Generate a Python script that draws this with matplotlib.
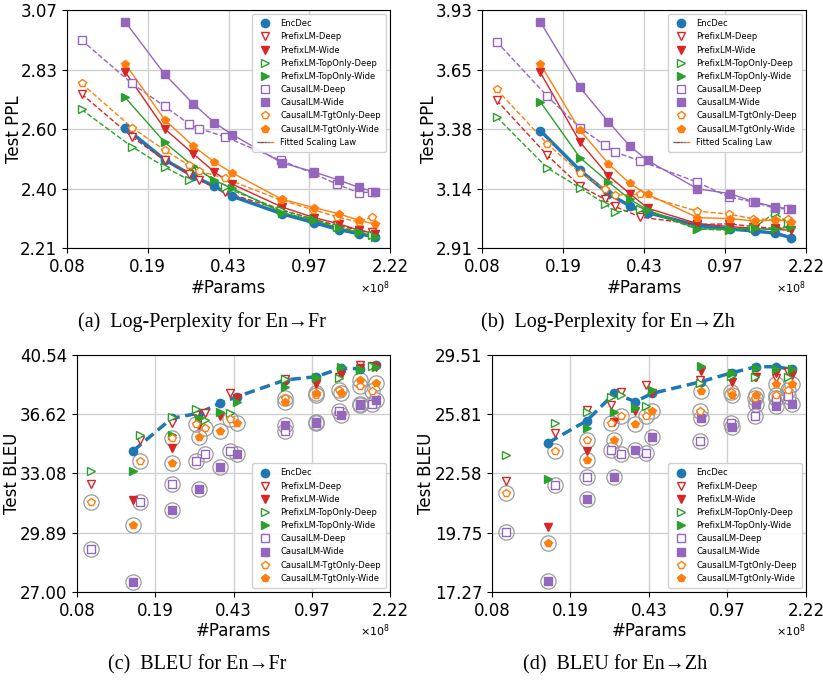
import numpy as np
import matplotlib
matplotlib.use('Agg')
import matplotlib.pyplot as plt
from matplotlib.lines import Line2D
from matplotlib.legend_handler import HandlerTuple
from matplotlib.ticker import NullLocator

# x positions (x 1e8 params)
x_deep = [0.0969, 0.1616, 0.2251, 0.2897, 0.3207, 0.4155, 0.735, 1.017, 1.301, 1.620, 1.841]
x_wide = [0.1508, 0.2251, 0.3003, 0.3729, 0.4466, 0.740, 1.024, 1.322, 1.620, 1.915]

series_names = ['EncDec', 'PrefixLM-Deep', 'PrefixLM-Wide', 'PrefixLM-TopOnly-Deep',
                'PrefixLM-TopOnly-Wide', 'CausalLM-Deep', 'CausalLM-Wide',
                'CausalLM-TgtOnly-Deep', 'CausalLM-TgtOnly-Wide']

# (a) En->Fr log-perplexity
fr_ppl_encdec = [2.610, 2.497, 2.441, 2.407, 2.374, 2.317, 2.289, 2.267, 2.254, 2.244]
fr_ppl_prefix_deep = [2.734, 2.577, 2.495, 2.448, 2.427, 2.387, 2.330, 2.300, 2.280, 2.265, 2.258]
fr_ppl_prefix_wide = [2.819, 2.606, 2.518, 2.455, 2.414, 2.339, 2.305, 2.285, 2.265, 2.254]
fr_ppl_toponly_deep = [2.676, 2.542, 2.472, 2.427, 2.460, 2.403, 2.330, 2.300, 2.275, 2.260, 2.250]
fr_ppl_toponly_wide = [2.721, 2.558, 2.475, 2.427, 2.400, 2.321, 2.296, 2.272, 2.258, 2.244]
fr_ppl_causal_deep = [2.945, 2.774, 2.688, 2.622, 2.606, 2.577, 2.494, 2.450, 2.413, 2.385, 2.388]
fr_ppl_causal_wide = [3.021, 2.810, 2.698, 2.628, 2.585, 2.486, 2.455, 2.427, 2.403, 2.387]
fr_ppl_tgt_deep = [2.774, 2.610, 2.530, 2.477, 2.458, 2.433, 2.361, 2.330, 2.307, 2.290, 2.307]
fr_ppl_tgt_wide = [2.851, 2.639, 2.545, 2.489, 2.452, 2.364, 2.337, 2.317, 2.296, 2.284]

# (b) En->Zh log-perplexity
zh_ppl_encdec = [3.375, 3.210, 3.117, 3.069, 3.043, 2.994, 2.981, 2.973, 2.965, 2.948]
zh_ppl_prefix_deep = [3.507, 3.272, 3.147, 3.095, 3.067, 3.026, 2.998, 3.000, 2.990, 2.983, 2.990]
zh_ppl_prefix_wide = [3.632, 3.327, 3.188, 3.117, 3.060, 3.001, 2.990, 2.983, 2.979, 2.976]
zh_ppl_toponly_deep = [3.434, 3.220, 3.140, 3.078, 3.045, 3.057, 2.981, 2.976, 2.983, 3.043, 3.004]
zh_ppl_toponly_wide = [3.500, 3.262, 3.163, 3.095, 3.053, 2.981, 2.981, 2.983, 2.979, 2.990]
zh_ppl_causal_deep = [3.776, 3.525, 3.388, 3.313, 3.285, 3.248, 3.163, 3.104, 3.084, 3.060, 3.057]
zh_ppl_causal_wide = [3.871, 3.564, 3.413, 3.310, 3.250, 3.136, 3.117, 3.084, 3.065, 3.057]
zh_ppl_tgt_deep = [3.555, 3.320, 3.200, 3.136, 3.111, 3.114, 3.049, 3.037, 3.020, 3.015, 3.020]
zh_ppl_tgt_wide = [3.671, 3.377, 3.237, 3.157, 3.114, 3.024, 3.020, 3.011, 3.015, 3.009]

# (c) En->Fr BLEU
fr_bleu_encdec = [34.40, 36.36, 36.70, 37.31, 37.74, 38.84, 39.06, 39.62, 39.60, 39.85]
fr_bleu_prefix_deep = [32.52, 35.04, 36.05, 36.56, 36.70, 37.96, 38.88, 38.60, 39.06, 39.85, 39.78]
fr_bleu_prefix_wide = [31.60, 34.55, 35.95, 36.50, 37.64, 38.73, 38.62, 39.17, 39.62, 39.74]
fr_bleu_toponly_deep = [33.20, 35.34, 36.42, 36.93, 36.26, 36.70, 38.88, 39.00, 38.95, 39.60, 39.78]
fr_bleu_toponly_wide = [33.20, 35.34, 36.36, 36.78, 37.42, 38.40, 39.06, 39.70, 39.51, 39.70]
fr_bleu_causal_deep = [29.09, 31.51, 32.50, 33.82, 34.21, 34.40, 35.60, 36.10, 36.82, 37.30, 37.30]
fr_bleu_causal_wide = [27.47, 31.10, 32.19, 33.43, 34.21, 35.93, 36.15, 36.60, 37.21, 37.53]
fr_bleu_tgt_deep = [31.51, 33.82, 35.14, 36.00, 35.80, 36.30, 37.64, 37.85, 38.18, 38.44, 38.10]
fr_bleu_tgt_wide = [30.28, 33.71, 35.24, 35.60, 36.10, 37.42, 38.00, 38.00, 38.84, 38.62]

# (d) En->Zh BLEU
zh_bleu_encdec = [24.21, 25.44, 27.06, 26.56, 27.06, 27.78, 28.35, 28.74, 28.74, 28.57]
zh_bleu_prefix_deep = [22.21, 24.72, 26.05, 26.35, 27.16, 27.58, 27.88, 28.15, 28.10, 28.00, 28.40]
zh_bleu_prefix_wide = [20.01, 23.75, 25.37, 26.00, 27.10, 28.45, 27.78, 28.05, 28.31, 28.20]
zh_bleu_toponly_deep = [23.55, 25.28, 25.95, 26.85, 26.96, 26.28, 27.73, 28.15, 28.10, 26.75, 28.10]
zh_bleu_toponly_wide = [22.28, 25.00, 25.95, 26.20, 27.26, 28.78, 28.31, 28.65, 28.57, 28.57]
zh_bleu_causal_deep = [19.79, 22.01, 22.40, 23.83, 23.58, 23.62, 24.31, 25.32, 25.69, 26.75, 26.90]
zh_bleu_causal_wide = [17.71, 21.31, 22.40, 23.83, 24.53, 25.62, 25.09, 26.40, 26.30, 26.40]
zh_bleu_tgt_deep = [21.58, 23.75, 24.35, 25.32, 25.69, 25.69, 26.00, 27.16, 26.79, 26.96, 27.29]
zh_bleu_tgt_wide = [19.30, 23.30, 24.35, 25.22, 26.00, 27.20, 26.96, 26.96, 27.64, 27.64]

x_ticklabels = ['0.08', '0.19', '0.43', '0.97', '2.22']
x_lim = (0.0836, 2.22)
fr_ppl_ticklabels = ['2.21', '2.40', '2.60', '2.83', '3.07']
zh_ppl_ticklabels = ['2.91', '3.14', '3.38', '3.65', '3.93']
fr_bleu_ticklabels = ['27.00', '29.89', '33.08', '36.62', '40.54']
zh_bleu_ticklabels = ['17.27', '19.75', '22.58', '25.81', '29.51']

colors = ['#1f77b4', '#d62728', '#d62728', '#2ca02c', '#2ca02c',
          '#9467bd', '#9467bd', '#ff7f0e', '#ff7f0e']
markers = ['o', 'v', 'v', '>', '>', 's', 's', 'p', 'p']
filled = [True, False, True, False, True, False, True, False, True]
is_deep = [False, True, False, True, False, True, False, True, False]


def setup_axes(ax, ylabels, ylabel, ylabel_x):
    ax.set_xscale('log')
    ax.set_yscale('log')
    ax.set_xlim(*x_lim)
    lo, hi = float(ylabels[0]), float(ylabels[-1])
    ax.set_ylim(lo, hi)
    ax.set_xticks(np.geomspace(x_lim[0], x_lim[1], 5))
    ax.set_xticklabels(x_ticklabels)
    ax.set_yticks(np.geomspace(lo, hi, 5))
    ax.set_yticklabels(ylabels)
    ax.xaxis.set_minor_locator(NullLocator())
    ax.yaxis.set_minor_locator(NullLocator())
    ax.tick_params(labelsize=12)
    ax.grid(True, color='#d0d0d0', lw=1)
    ax.set_axisbelow(True)
    ax.set_xlabel('#Params', fontsize=12, labelpad=2)
    ax.set_ylabel(ylabel, fontsize=12)
    ax.yaxis.set_label_coords(ylabel_x, 0.5)
    ax.text(1.0, -0.165, r'$\times 10^{8}$', transform=ax.transAxes,
            ha='right', va='center', fontsize=8)


def plot_ppl(ax, data, ylabels):
    setup_axes(ax, ylabels, 'Test PPL', -0.135)
    for i, ys in enumerate(data):
        xs = x_deep if is_deep[i] else x_wide
        lw = 2.5 if i == 0 else 1.0
        ls = '--' if is_deep[i] else '-'
        ax.plot(xs, ys, color=colors[i], lw=lw, ls=ls, zorder=2)
        ax.plot(xs, ys, ls='none', marker=markers[i], ms=6,
                color=colors[i], mfc=colors[i] if filled[i] else 'white',
                mec=colors[i], mew=1.0, label=series_names[i], zorder=3)
    handles, labels = ax.get_legend_handles_labels()
    fit_handle = tuple(Line2D([], [], color=c, lw=1, ls='--')
                       for c in ['#1f77b4', '#d62728', '#2ca02c', '#9467bd', '#ff7f0e'])
    handles.append(fit_handle)
    labels.append('Fitted Scaling Law')
    ax.legend(handles, labels, loc='upper right', fontsize=6,
              handler_map={tuple: HandlerTuple(ndivide=None, pad=0)},
              framealpha=0.9, borderpad=0.6)


def plot_bleu(ax, data, ylabels):
    setup_axes(ax, ylabels, 'Test BLEU', -0.18)
    for i, ys in enumerate(data):
        xs = x_deep if is_deep[i] else x_wide
        if i >= 5:
            ax.plot(xs, ys, ls='none', marker='o', ms=11, mfc='none',
                    mec='#9a9a9a', mew=0.9, zorder=2)
        if i == 0:
            ax.plot(xs, ys, color=colors[0], lw=2.5, ls=(0, (3, 1.6)), zorder=2)
        ax.plot(xs, ys, ls='none', marker=markers[i], ms=6,
                color=colors[i], mfc=colors[i] if filled[i] else 'white',
                mec=colors[i], mew=1.0, label=series_names[i], zorder=3)
    ax.legend(loc='lower right', fontsize=6, framealpha=0.9, borderpad=0.6)


fig = plt.figure(figsize=(8.23, 6.81), dpi=100)
ax_a = fig.add_axes([0.0814, 0.6358, 0.3925, 0.3495])
ax_b = fig.add_axes([0.5857, 0.6358, 0.3937, 0.3495])
ax_c = fig.add_axes([0.0936, 0.1307, 0.3803, 0.3480])
ax_d = fig.add_axes([0.5978, 0.1307, 0.3815, 0.3480])

plot_ppl(ax_a, [fr_ppl_encdec, fr_ppl_prefix_deep, fr_ppl_prefix_wide, fr_ppl_toponly_deep,
                fr_ppl_toponly_wide, fr_ppl_causal_deep, fr_ppl_causal_wide,
                fr_ppl_tgt_deep, fr_ppl_tgt_wide], fr_ppl_ticklabels)
plot_ppl(ax_b, [zh_ppl_encdec, zh_ppl_prefix_deep, zh_ppl_prefix_wide, zh_ppl_toponly_deep,
                zh_ppl_toponly_wide, zh_ppl_causal_deep, zh_ppl_causal_wide,
                zh_ppl_tgt_deep, zh_ppl_tgt_wide], zh_ppl_ticklabels)
plot_bleu(ax_c, [fr_bleu_encdec, fr_bleu_prefix_deep, fr_bleu_prefix_wide, fr_bleu_toponly_deep,
                 fr_bleu_toponly_wide, fr_bleu_causal_deep, fr_bleu_causal_wide,
                 fr_bleu_tgt_deep, fr_bleu_tgt_wide], fr_bleu_ticklabels)
plot_bleu(ax_d, [zh_bleu_encdec, zh_bleu_prefix_deep, zh_bleu_prefix_wide, zh_bleu_toponly_deep,
                 zh_bleu_toponly_wide, zh_bleu_causal_deep, zh_bleu_causal_wide,
                 zh_bleu_tgt_deep, zh_bleu_tgt_wide], zh_bleu_ticklabels)

serif = ['Liberation Serif', 'DejaVu Serif']
fig.text(0.245, 0.527, '(a)  Log-Perplexity for En\u2192Fr', ha='center', va='center',
         fontsize=14.5, family=serif)
fig.text(0.739, 0.527, '(b)  Log-Perplexity for En\u2192Zh', ha='center', va='center',
         fontsize=14.5, family=serif)
fig.text(0.240, 0.0235, '(c)  BLEU for En\u2192Fr', ha='center', va='center',
         fontsize=14.5, family=serif)
fig.text(0.747, 0.0235, '(d)  BLEU for En\u2192Zh', ha='center', va='center',
         fontsize=14.5, family=serif)

fig.savefig('out.png', dpi=100)
